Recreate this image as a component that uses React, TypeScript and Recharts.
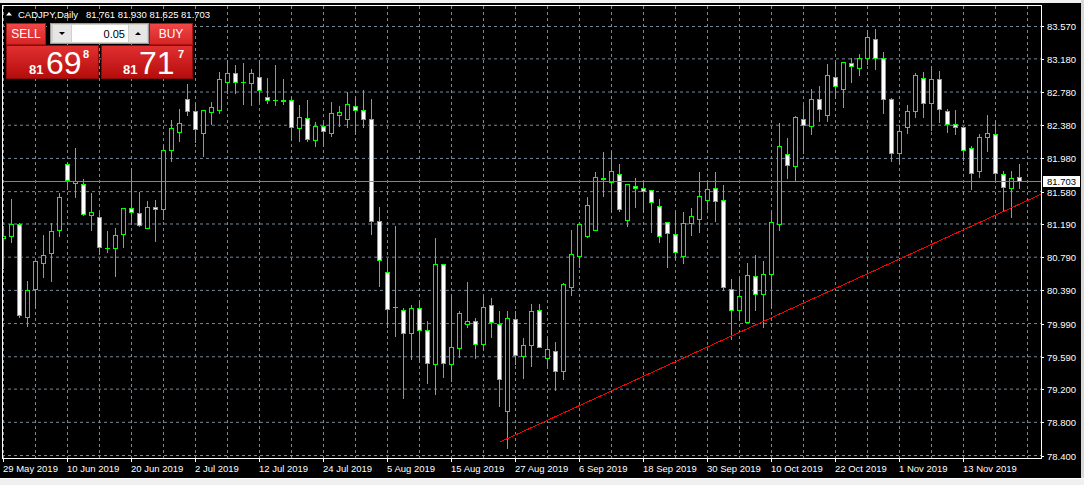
import React from 'react';
import { ComposedChart, Bar, XAxis, YAxis, CartesianGrid, ReferenceLine } from 'recharts';

// CADJPY daily bars, 29 May 2019 .. 22 Nov 2019
const opens = [
  81.027, 81.043, 81.192, 80.067, 80.404, 80.718, 80.838, 81.115, 81.915, 81.686,
  81.674, 81.301, 81.277, 80.901, 80.903, 81.072, 81.385, 81.325, 81.144, 81.397,
  81.368, 82.076, 82.293, 82.699, 82.546, 82.284, 82.537, 82.566, 82.899, 83.012,
  82.907, 82.887, 82.967, 82.726, 82.690, 82.670, 82.687, 82.344, 82.470, 82.205,
  82.369, 82.284, 82.501, 82.453, 82.614, 82.566, 82.458, 81.229, 80.614, 80.190,
  80.148, 79.879, 80.180, 79.915, 79.505, 80.710, 79.505, 79.698, 79.987, 80.023,
  79.746, 80.208, 79.987, 78.939, 80.047, 79.602, 79.734, 80.156, 79.578, 79.662,
  79.421, 80.428, 80.802, 81.043, 81.115, 81.738, 81.702, 81.795, 81.241, 81.650,
  81.626, 81.602, 81.409, 81.212, 81.072, 80.807, 81.204, 81.253, 81.482, 81.626,
  81.482, 80.409, 80.156, 80.011, 80.566, 80.349, 80.590, 81.192, 82.036, 81.891,
  82.458, 82.373, 82.699, 82.506, 82.959, 82.819, 83.133, 83.072, 83.193, 83.422,
  83.193, 82.699, 82.048, 82.357, 82.554, 82.952, 82.651, 82.940, 82.554, 82.397,
  82.361, 82.108, 81.826, 82.236, 82.277, 81.795, 81.626, 81.761,
];
const highs = [
  81.172, 81.509, 81.220, 80.518, 80.755, 81.075, 81.220, 81.573, 81.955, 82.112,
  81.747, 81.570, 81.332, 81.112, 81.148, 81.393, 81.871, 81.582, 81.482, 81.497,
  82.160, 82.461, 82.582, 82.895, 82.666, 82.578, 82.678, 83.028, 83.184, 83.120,
  83.148, 83.072, 83.184, 82.967, 83.120, 82.952, 82.738, 82.630, 82.699, 82.437,
  82.417, 82.678, 82.618, 82.787, 82.738, 82.811, 82.711, 81.401, 80.778, 81.180,
  80.187, 80.228, 80.277, 80.027, 81.039, 80.718, 80.349, 80.156, 80.497, 80.075,
  80.349, 80.316, 80.148, 80.148, 80.148, 79.834, 80.240, 80.240, 79.843, 79.774,
  80.489, 81.124, 81.200, 81.533, 81.823, 82.064, 82.084, 81.919, 81.680, 81.762,
  81.726, 81.614, 81.509, 81.216, 81.353, 81.341, 81.392, 81.823, 81.723, 81.823,
  81.666, 80.542, 80.566, 80.734, 80.831, 80.759, 81.344, 82.422, 82.244, 82.498,
  82.638, 82.823, 82.859, 83.136, 83.160, 83.160, 83.208, 83.248, 83.534, 83.546,
  83.277, 82.718, 82.397, 82.630, 83.016, 83.028, 83.100, 83.048, 82.590, 82.578,
  82.373, 82.136, 82.289, 82.518, 82.446, 81.843, 81.843, 81.930,
];
const lows = [
  80.662, 80.971, 80.067, 79.958, 80.180, 80.549, 80.509, 81.043, 81.609, 81.513,
  81.296, 81.115, 80.826, 80.850, 80.561, 80.907, 81.184, 81.160, 81.140, 80.983,
  81.256, 81.955, 82.196, 82.498, 82.184, 82.015, 82.397, 82.525, 82.766, 82.766,
  82.630, 82.618, 82.678, 82.651, 82.626, 82.638, 82.208, 82.188, 82.196, 82.124,
  82.136, 82.253, 82.365, 82.357, 82.277, 82.357, 81.072, 80.440, 79.946, 79.838,
  79.091, 79.566, 79.537, 79.271, 79.144, 79.344, 79.296, 79.585, 79.946, 79.573,
  79.674, 79.826, 78.991, 78.488, 79.505, 79.332, 79.476, 79.705, 79.457, 79.192,
  79.320, 80.337, 80.669, 81.031, 81.296, 81.525, 81.337, 81.344, 81.163, 81.392,
  81.337, 81.091, 80.971, 80.669, 80.771, 80.718, 81.063, 81.091, 81.373, 81.224,
  80.397, 79.806, 80.027, 80.005, 80.156, 79.946, 80.180, 81.112, 81.742, 81.726,
  82.043, 82.272, 82.437, 82.429, 82.706, 82.598, 82.899, 82.983, 83.120, 83.055,
  82.525, 81.947, 81.911, 82.284, 82.477, 82.477, 82.325, 82.417, 82.296, 82.277,
  81.964, 81.609, 81.754, 82.067, 81.714, 81.356, 81.272, 81.625,
];
const closes = [
  81.051, 81.192, 80.096, 80.397, 80.750, 80.819, 81.108, 81.518, 81.723, 81.711,
  81.313, 81.337, 80.915, 80.897, 81.060, 81.385, 81.337, 81.180, 81.397, 81.368,
  82.076, 82.341, 82.413, 82.549, 82.332, 82.566, 82.594, 82.940, 83.012, 82.899,
  82.901, 83.012, 82.802, 82.682, 82.684, 82.690, 82.361, 82.482, 82.212, 82.373,
  82.308, 82.522, 82.542, 82.642, 82.561, 82.455, 81.224, 80.759, 80.168, 80.184,
  79.879, 80.180, 79.915, 79.517, 80.710, 79.517, 79.705, 80.120, 80.023, 79.746,
  80.192, 80.011, 79.324, 80.060, 79.614, 79.734, 80.144, 79.710, 79.686, 79.421,
  80.469, 80.831, 81.192, 81.421, 81.759, 81.744, 81.831, 81.373, 81.674, 81.626,
  81.585, 81.457, 81.048, 81.084, 80.855, 81.204, 81.289, 81.530, 81.614, 81.470,
  80.428, 80.156, 80.325, 80.578, 80.349, 80.590, 81.212, 82.132, 81.903, 82.482,
  82.385, 82.699, 82.573, 82.980, 82.851, 83.145, 83.096, 83.193, 83.446, 83.193,
  82.699, 82.048, 82.313, 82.554, 82.988, 82.651, 82.940, 82.578, 82.397, 82.361,
  82.084, 81.807, 82.241, 82.289, 81.807, 81.638, 81.747, 81.703,
];

const dateLabels = [
  '29 May 2019', '10 Jun 2019', '20 Jun 2019', '2 Jul 2019', '12 Jul 2019', '24 Jul 2019',
  '5 Aug 2019', '15 Aug 2019', '27 Aug 2019', '6 Sep 2019', '18 Sep 2019', '30 Sep 2019',
  '10 Oct 2019', '22 Oct 2019', '1 Nov 2019', '13 Nov 2019',
];
const priceTicks = [83.57, 83.18, 82.78, 82.38, 81.98, 81.58, 81.19, 80.79, 80.39, 79.99, 79.59, 79.2, 78.8, 78.4];

// hand drawn support line (bar index, price)
const trendStart = { k: 62, price: 78.56 };
const trendEnd = { k: 129.8, price: 81.553 };

const symbol = 'CADJPY,Daily';
const lotSize = '0.05';
const bidParts = ['81', '69', '8'];
const askParts = ['81', '71', '7'];

const BARS_PER_LABEL = 8;
const BARS_PER_GRID = 4;
const FONT = "'Liberation Sans', Arial, sans-serif";
const GREEN = '#00ff00';
const GRID = '#778899';

const candles = opens.map((open, k) => ({
  k,
  open,
  high: highs[k],
  low: lows[k],
  close: closes[k],
  range: [lows[k], highs[k]],
}));
const last = candles[candles.length - 1];
const xTicks = dateLabels.map((_, i) => i * BARS_PER_LABEL);
const gridXs = Array.from({ length: Math.floor(candles.length / BARS_PER_GRID) + 1 }, (_, i) => i * BARS_PER_GRID);

function Candle(props: any) {
  const { x, y, width, height, payload } = props;
  if (!payload) return null;
  const { open, close, high, low } = payload;
  const top = Math.min(y, y + height);
  const bottom = Math.max(y, y + height);
  const perUnit = (bottom - top) / (high - low);
  const py = (v: number) => Math.round(bottom - (v - low) * perUnit) + 0.5;
  const cx = Math.floor(x + width / 2) + 0.5;
  const bodyTop = py(Math.max(open, close));
  const bodyBottom = py(Math.min(open, close));
  const bull = close >= open;
  return (
    <g shapeRendering="crispEdges">
      <line x1={cx} x2={cx} y1={py(high)} y2={py(low)} stroke={GREEN} />
      {bodyBottom - bodyTop < 1 ? (
        <line x1={cx - 2.5} x2={cx + 2.5} y1={bodyTop} y2={bodyTop} stroke={GREEN} />
      ) : (
        <rect x={cx - 2} y={bodyTop} width={4} height={bodyBottom - bodyTop} fill={bull ? '#000' : '#fff'} stroke={GREEN} />
      )}
    </g>
  );
}

function PriceTick(props: any) {
  const { x, y, payload } = props;
  const v = payload.value;
  const yy = Math.round(y) + 0.5;
  if (v === last.close) {
    return (
      <g>
        <rect x={x - 4} y={yy - 5.5} width={37} height={11} fill="#fff" />
        <text x={x} y={yy + 3.5} fontSize={9.5} fontFamily={FONT} fill="#000">{v.toFixed(3)}</text>
      </g>
    );
  }
  return (
    <g>
      <line x1={x - 6} x2={x - 3} y1={yy} y2={yy} stroke="#fff" shapeRendering="crispEdges" />
      <text x={x} y={yy + 3.5} fontSize={9.5} fontFamily={FONT} fill="#fff">{v.toFixed(3)}</text>
    </g>
  );
}

function DateTick(props: any) {
  const { x, y, payload } = props;
  const xx = Math.floor(x) + 0.5;
  return (
    <g>
      <line x1={xx} x2={xx} y1={y - 5} y2={y - 1} stroke="#fff" shapeRendering="crispEdges" />
      <text x={xx - 0.5} y={y + 9} fontSize={9.5} fontFamily={FONT} fill="#fff">
        {dateLabels[Math.round(payload.value / BARS_PER_LABEL)]}
      </text>
    </g>
  );
}

function TradePanel() {
  return (
    <g fontFamily={FONT}>
      <defs>
        <linearGradient id="btnRed" x1="0" y1="0" x2="0" y2="1">
          <stop offset="0" stopColor="#f04848" />
          <stop offset="1" stopColor="#d42424" />
        </linearGradient>
        <linearGradient id="pxRed" x1="0" y1="0" x2="0" y2="1">
          <stop offset="0" stopColor="#e23030" />
          <stop offset="1" stopColor="#b40c0c" />
        </linearGradient>
      </defs>
      {/* sell / buy buttons */}
      <rect x={6.5} y={23.5} width={39} height={21} fill="url(#btnRed)" stroke="#a81414" />
      <text x={26} y={38} fontSize={12} fill="#fff" textAnchor="middle">SELL</text>
      <rect x={149.5} y={23.5} width={43} height={21} fill="url(#btnRed)" stroke="#a81414" />
      <text x={171} y={38} fontSize={12} fill="#fff" textAnchor="middle">BUY</text>
      {/* lot spinner */}
      <rect x={50.5} y={23.5} width={98} height={20} fill="#d4d0c8" stroke="#9a9a9a" />
      <rect x={53} y={25} width={18} height={17} fill="#e6e6e6" />
      <polygon points="59,32 65,32 62,35" fill="#000" />
      <rect x={72} y={25} width={56} height={17} fill="#fff" />
      <text x={125} y={37.5} fontSize={11} fill="#000" textAnchor="end">{lotSize}</text>
      <rect x={129} y={25} width={18} height={17} fill="#e6e6e6" />
      <polygon points="135,35 141,35 138,32" fill="#000" />
      {/* price boxes */}
      <rect x={6.5} y={45.5} width={92} height={33} fill="url(#pxRed)" stroke="#8c0a0a" />
      <text x={29} y={74} fontSize={13} fontWeight="bold" fill="#fff">{bidParts[0]}</text>
      <text x={46} y={74} fontSize={32} fill="#fff">{bidParts[1]}</text>
      <text x={83} y={57.5} fontSize={11} fontWeight="bold" fill="#fff">{bidParts[2]}</text>
      <rect x={101.5} y={45.5} width={91} height={33} fill="url(#pxRed)" stroke="#8c0a0a" />
      <text x={123} y={74} fontSize={13} fontWeight="bold" fill="#fff">{askParts[0]}</text>
      <text x={139} y={74} fontSize={32} fill="#fff">{askParts[1]}</text>
      <text x={178} y={57.5} fontSize={11} fontWeight="bold" fill="#fff">{askParts[2]}</text>
    </g>
  );
}

export default function App() {
  return (
    <div style={{ position: 'absolute', left: 0, top: 0, width: 1084, height: 485, background: '#000', overflow: 'hidden' }}>
      <ComposedChart width={1084} height={485} data={candles} margin={{ top: 6, right: 0, bottom: 0, left: 2 }}>
        <CartesianGrid stroke={GRID} strokeDasharray="3 3" verticalValues={gridXs} horizontalValues={priceTicks} />
        <XAxis
          dataKey="k"
          type="number"
          domain={[-0.1875, 129.8125]}
          allowDataOverflow
          ticks={xTicks}
          interval={0}
          height={27}
          axisLine={false}
          tickLine={false}
          tickSize={4}
          tickMargin={1}
          tick={(p: any) => <DateTick {...p} />}
        />
        <YAxis
          orientation="right"
          type="number"
          domain={[78.37, 83.817]}
          allowDataOverflow
          ticks={[...priceTicks, last.close]}
          interval={0}
          width={42}
          axisLine={false}
          tickLine={false}
          tickSize={3}
          tickMargin={2}
          tick={(p: any) => <PriceTick {...p} />}
        />
        <ReferenceLine y={last.close} stroke={GRID} shapeRendering="crispEdges" />
        <Bar dataKey="range" barSize={6} isAnimationActive={false} shape={(p: any) => <Candle {...p} />} />
        <ReferenceLine
          segment={[{ x: trendStart.k, y: trendStart.price }, { x: trendEnd.k, y: trendEnd.price }]}
          stroke="#ff0000"
          ifOverflow="visible"
          shapeRendering="crispEdges"
        />
      </ComposedChart>
      <svg width={1084} height={485} style={{ position: 'absolute', left: 0, top: 0, pointerEvents: 'none' }}>
        <rect x={0} y={0} width={1084} height={3} fill="#f0f0f0" />
        <rect x={2.5} y={5.5} width={1039} height={453} fill="none" stroke="#fff" shapeRendering="crispEdges" />
        <rect x={1081} y={0} width={3} height={479} fill="#d8d8d8" />
        <rect x={0} y={478} width={1084} height={7} fill="#f0f0f0" />
        <line x1={0} x2={1084} y1={478.5} y2={478.5} stroke="#fff" />
        <polygon points="6,15.5 12,15.5 9,12" fill="#fff" />
        <text x={18} y={17.5} fontSize={9.5} fontFamily={FONT} fill="#fff">{symbol}</text>
        <text x={86} y={17.5} fontSize={9.5} fontFamily={FONT} fill="#fff" xmlSpace="preserve">
          {[last.open, last.high, last.low, last.close].map((v) => v.toFixed(3)).join(' ')}
        </text>
        <TradePanel />
      </svg>
    </div>
  );
}
